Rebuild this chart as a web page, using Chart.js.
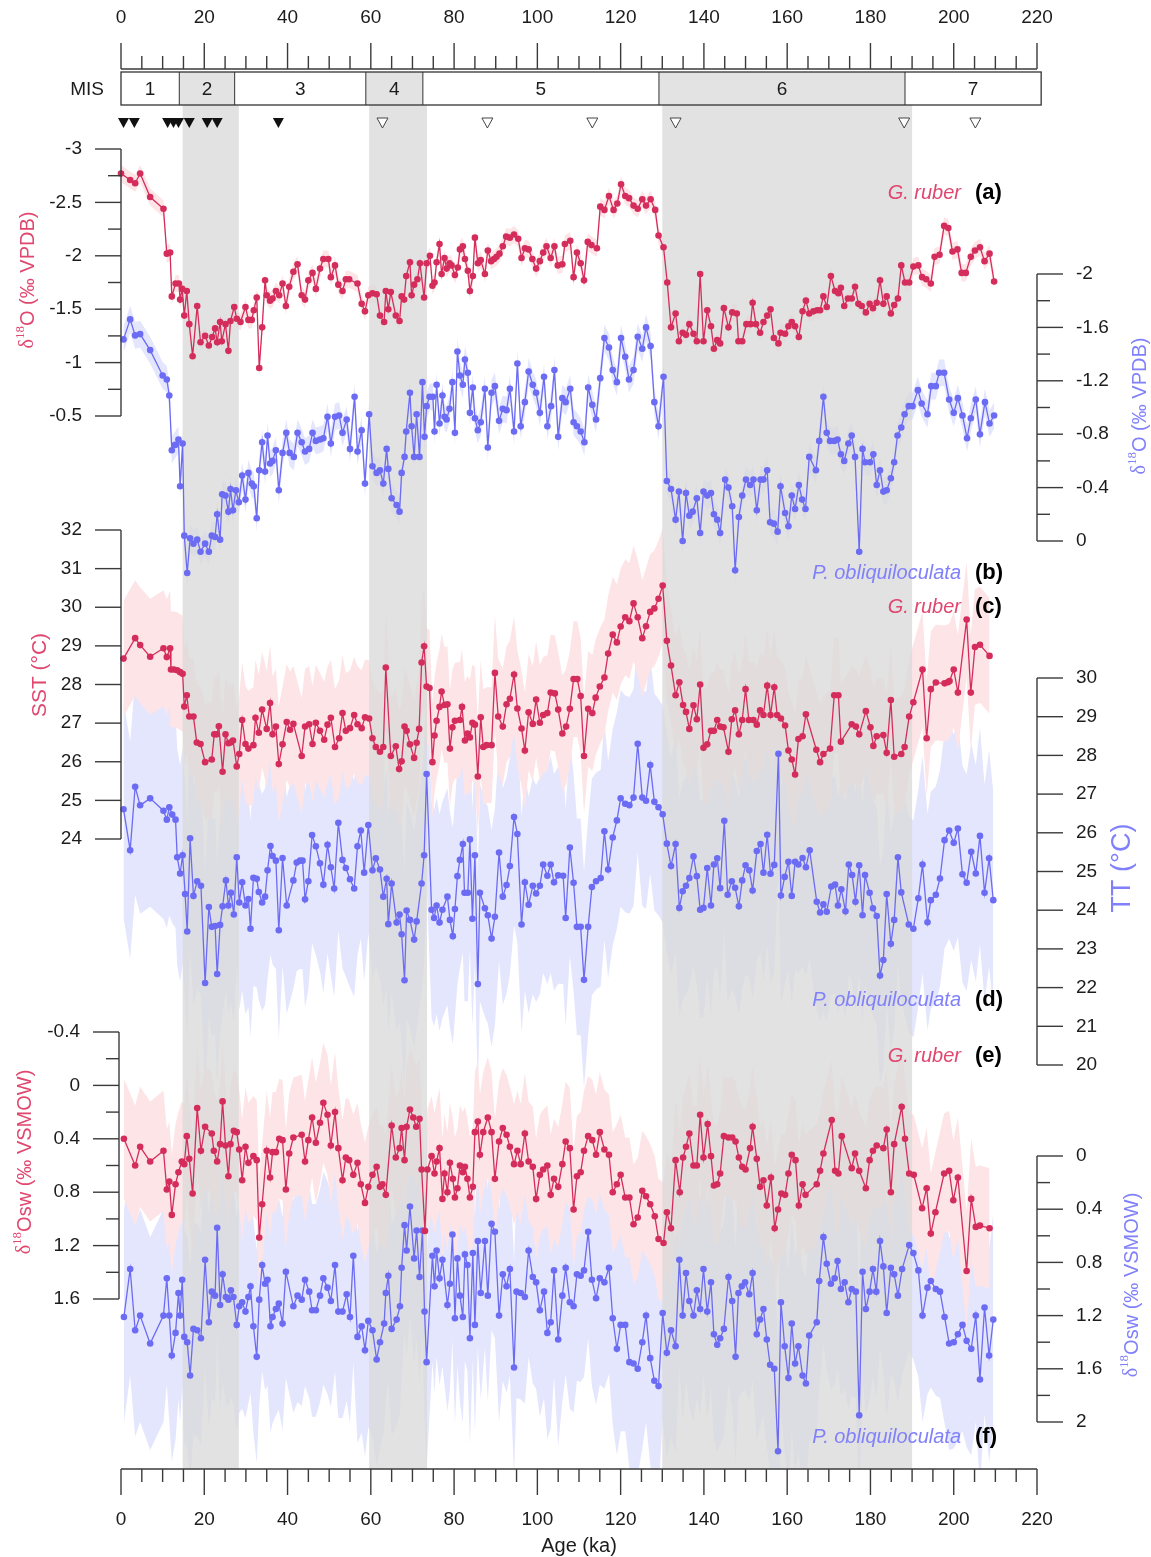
<!DOCTYPE html>
<html>
<head>
<meta charset="utf-8">
<title>Foraminifera records</title>
<script src="https://cdn.jsdelivr.net/npm/chart.js@4.4.1/dist/chart.umd.min.js"></script>
<style>
  html, body { margin: 0; padding: 0; background: #fff; }
  #wrap { width: 1151px; height: 1557px; }
</style>
</head>
<body>
<div id="wrap"><canvas id="chart" width="1151" height="1557"></canvas></div>
<script>
// ---- data (age in ka, value) ----
const ageTicks = [0, 20, 40, 60, 80, 100, 120, 140, 160, 180, 200, 220];
const misStages = ['1', '2', '3', '4', '5', '6', '7'];
const misBounds = [0, 14, 27.3, 58.8, 72.5, 129.2, 188.3, 221];
const glacialBands = [[14.8, 28.3], [59.6, 73.5], [130, 190]];
const datedFilled = [0.6, 3.2, 11.2, 12.6, 13.8, 16.4, 20.7, 23.1, 37.8];
const datedOpen = [62.8, 88, 113.2, 133.2, 188.1, 205.2];

const ticksA = [-3, -2.5, -2, -1.5, -1, -0.5];
const ticksB = [-2, -1.6, -1.2, -0.8, -0.4, 0];
const ticksC = [32, 31, 30, 29, 28, 27, 26, 25, 24];
const ticksD = [30, 29, 28, 27, 26, 25, 24, 23, 22, 21, 20];
const ticksE = [-0.4, 0, 0.4, 0.8, 1.2, 1.6];
const ticksF = [0, 0.4, 0.8, 1.2, 1.6, 2];

// half-width of the shaded uncertainty envelopes
const sigmaA = 0.08, sigmaB = 0.1, sigmaC = 1.5, sigmaD = 2.8, sigmaE = 0.45, sigmaF = 0.8;

// (a) G. ruber d18O
const ruberD18O = [[0,-2.77],[2.2,-2.71],[3.4,-2.68],[4.6,-2.77],[7,-2.55],[10.2,-2.44],[11,-2.02],[11.8,-2.03],[12.2,-1.62],[13.1,-1.74],[13.9,-1.74],[14.2,-1.59],[14.7,-1.69],[15.2,-1.44],[15.8,-1.67],[16.4,-1.36],[17.2,-1.06],[18.3,-1.53],[19.1,-1.19],[20.2,-1.25],[21.1,-1.16],[21.9,-1.24],[22.6,-1.32],[23.1,-1.19],[23.8,-1.38],[24.2,-1.2],[25.1,-1.36],[25.8,-1.11],[26.3,-1.39],[27.2,-1.52],[27.8,-1.41],[28.7,-1.38],[29.9,-1.52],[30.6,-1.4],[31.4,-1.4],[31.9,-1.49],[32.6,-1.61],[33.2,-0.95],[33.9,-1.33],[34.6,-1.77],[35,-1.63],[35.8,-1.58],[36.4,-1.6],[37.2,-1.67],[38,-1.63],[38.8,-1.74],[39.6,-1.53],[40.4,-1.71],[41.4,-1.85],[42.4,-1.92],[43.4,-1.63],[44.2,-1.59],[45,-1.77],[46,-1.84],[46.8,-1.69],[47.8,-1.88],[48.6,-1.97],[49.8,-1.97],[50.4,-1.8],[51.4,-1.91],[52.2,-1.73],[53.2,-1.67],[54,-1.78],[54.8,-1.78],[56.8,-1.74],[57.8,-1.55],[58.6,-1.48],[59.4,-1.63],[60.4,-1.65],[61.4,-1.64],[62.2,-1.44],[63.2,-1.38],[63.6,-1.67],[64.2,-1.5],[64.8,-1.66],[66,-1.44],[66.9,-1.39],[67.4,-1.62],[68,-1.59],[68.5,-1.81],
  [69.4,-1.94],[69.8,-1.63],[70.4,-1.73],[71.2,-1.78],[71.8,-1.93],[72.8,-1.61],[73.4,-1.93],[74.2,-2.0],[74.8,-1.72],[75.3,-1.75],[75.8,-1.94],[76.5,-2.11],[77,-1.83],[77.7,-1.98],[78.2,-1.88],[78.9,-1.93],[79.4,-1.91],[80.2,-1.82],[80.9,-1.89],[81.4,-2.06],[82.1,-2.09],[82.6,-1.97],[83.3,-1.86],[83.8,-1.67],[84.5,-1.81],[85,-2.17],[85.7,-1.93],[86.4,-1.96],[87.4,-1.83],[88.1,-2.05],[88.9,-1.95],[89.6,-1.97],[90.2,-1.99],[90.9,-2.02],[91.7,-2.09],[92.5,-2.18],[93.4,-2.17],[94.4,-2.2],[95.4,-2.16],[96.2,-1.98],[97,-2.07],[97.9,-2.06],[98.8,-1.97],[99.7,-1.88],[100.6,-1.95],[101.4,-2.03],[102.2,-2.09],[103.2,-1.98],[104.1,-2.09],[104.9,-1.91],[106,-1.92],[106.6,-2.11],[107.9,-2.14],[108.7,-1.8],[109.5,-2.03],[110.4,-1.93],[111.2,-1.77],[112.1,-2.13],[113,-2.1],[114.3,-2.07],[115.1,-2.46],[116.1,-2.43],[117.2,-2.56],[118.3,-2.43],[119.2,-2.49],[120.1,-2.67],[121.1,-2.56],[122,-2.54],[123.1,-2.47],[124.1,-2.44],[125.2,-2.53],[126.1,-2.47],[127.2,-2.53],[128.3,-2.43],[129.1,-2.19],[130.3,-2.08],[131.2,-1.75],[132.1,-1.33],[133.2,-1.46],[134,-1.2],[134.9,-1.28],[135.7,-1.26],[136.5,-1.36],[137.5,-1.27],[138.3,-1.2],[139.1,-1.83],[139.9,-1.2],[140.8,-1.49],[141.7,-1.34],[142.4,-1.13],[143.2,-1.21],
  [143.9,-1.18],[144.8,-1.51],[145.9,-1.33],[146.8,-1.47],[147.9,-1.46],[148.3,-1.2],[149.2,-1.2],[150.2,-1.36],[151.2,-1.36],[151.7,-1.56],[152.5,-1.36],[153.5,-1.28],[154.3,-1.38],[155.2,-1.44],[156,-1.5],[156.8,-1.23],[157.9,-1.18],[158.4,-1.28],[159.5,-1.27],[160.3,-1.34],[161.1,-1.38],[161.9,-1.34],[162.8,-1.24],[163.7,-1.48],[164.5,-1.58],[165.3,-1.46],[166.3,-1.48],[167.2,-1.49],[167.9,-1.49],[168.7,-1.62],[169.5,-1.52],[170.5,-1.81],[171.5,-1.67],[172.3,-1.65],[172.9,-1.7],[173.7,-1.53],[174.6,-1.6],[175.5,-1.6],[176.3,-1.71],[177.1,-1.55],[177.9,-1.53],[178.9,-1.47],[179.8,-1.55],[180.6,-1.51],[181.5,-1.56],[182.3,-1.77],[183.1,-1.55],[183.9,-1.62],[184.9,-1.46],[185.7,-1.54],[186.6,-1.6],[187.4,-1.91],[188.3,-1.75],[189.3,-1.75],[190.3,-1.9],[191.5,-1.91],[192.4,-1.8],[193.4,-1.78],[194.5,-1.74],[195.4,-1.99],[196.6,-2.01],[197.7,-2.28],[198.7,-2.26],[199.7,-2.04],[200.9,-2.06],[201.9,-1.84],[202.9,-1.84],[204.1,-1.99],[205.1,-2.05],[206.3,-2.08],[207.4,-1.95],[208.6,-2.02],[209.7,-1.76]];

// (b) P. obliquiloculata d18O
const obliqD18O = [[0.6,-1.51],[2.2,-1.66],[3.4,-1.54],[4.6,-1.55],[7,-1.43],[10,-1.24],[11,-1.21],[11.6,-1.09],[12.2,-0.68],[13,-0.72],[13.8,-0.76],[14.2,-0.41],[14.8,-0.73],[15.2,-0.04],[15.9,0.24],[16.6,-0.02],[17.4,0.02],[18.3,-0.01],[19.1,0.08],[20.2,0.02],[21.1,0.08],[21.8,-0.04],[22.6,-0.03],[23.1,-0.2],[23.8,-0.01],[24.3,-0.35],[25.1,-0.34],[25.8,-0.22],[26.3,-0.39],[26.9,-0.23],[27.6,-0.38],[28.3,-0.29],[29.1,-0.49],[29.9,-0.31],[30.6,-0.51],[31.4,-0.43],[31.9,-0.41],[32.6,-0.17],[33.2,-0.53],[33.9,-0.74],[34.6,-0.52],[35.2,-0.79],[35.8,-0.58],[36.4,-0.6],[37.2,-0.68],[37.9,-0.38],[38.8,-0.66],[39.7,-0.81],[40.5,-0.66],[41.5,-0.63],[42.4,-0.81],[43.4,-0.74],[44.2,-0.67],[45.2,-0.69],[46,-0.81],[46.8,-0.75],[47.8,-0.76],[48.6,-0.77],[49.6,-0.93],[50.4,-0.73],[51.4,-0.93],[52.4,-0.94],[53.2,-0.81],[54.2,-0.91],[55,-0.69],[56.1,-1.08],[56.8,-0.67],[57.8,-0.83],[58.6,-0.43],[59.6,-0.95],[60.4,-0.56],[61.4,-0.51],[62.2,-0.53],[63,-0.43],[63.8,-0.69],[64.2,-0.54],[65,-0.32],[66.2,-0.27],[66.9,-0.22],[67.4,-0.51],[68.1,-0.63],[68.5,-0.82],
  [69.4,-1.11],[69.8,-0.86],[70.4,-0.63],[71,-0.95],[71.7,-0.63],[72.4,-1.19],[72.9,-0.78],[73.4,-1.01],[74.1,-1.08],[74.9,-1.08],[75.3,-0.82],[75.8,-1.17],[76.5,-0.88],[77.2,-1.09],[77.7,-0.93],[78.2,-0.91],[78.9,-0.99],[79.6,-1.19],[80.2,-0.81],[80.8,-1.42],[81.4,-1.24],[82.1,-1.17],[82.6,-1.36],[83.3,-1.26],[83.8,-0.96],[84.5,-1.15],[85,-0.92],[85.7,-0.83],[86.4,-0.89],[87.4,-1.14],[88.1,-0.7],[89,-1.11],[89.8,-1.16],[90.8,-0.9],[91.7,-0.99],[92.6,-0.98],[93.4,-1.14],[94.4,-0.82],[95.2,-1.33],[96,-0.86],[97,-1.04],[97.9,-1.27],[98.9,-1.17],[99.7,-1.11],[100.6,-0.96],[101.6,-1.23],[102.4,-0.86],[103.3,-1.01],[104.1,-1.28],[105,-0.78],[106,-1.07],[106.8,-1.04],[107.9,-1.14],[108.7,-0.89],[109.5,-0.86],[110.4,-0.82],[111.3,-0.74],[112.2,-1.15],[113.2,-1.02],[114.1,-0.91],[115.1,-1.22],[116.1,-1.52],[117.2,-1.45],[118.1,-1.28],[119.1,-1.19],[120.1,-1.52],[121.1,-1.38],[122,-1.21],[123.1,-1.28],[124.1,-1.53],[125.2,-1.44],[126.1,-1.6],[127.2,-1.46],[128.1,-1.04],[129.1,-0.86],[130.3,-1.23],[131.1,-0.45],[132.1,-0.39],[133.2,-0.16],[134,-0.37],[134.9,0],[135.7,-0.36],[136.5,-0.19],[137.3,-0.22],[138.3,-0.32],[139.1,-0.06],[139.9,-0.37],[140.8,-0.34],[141.7,-0.36],[142.4,-0.2],[143.2,-0.16],
  [143.9,-0.06],[145.1,-0.46],[145.9,-0.4],[146.8,-0.26],[147.5,0.22],[148.4,-0.18],[149.2,-0.34],[150.1,-0.46],[151.1,-0.42],[151.9,-0.46],[152.7,-0.23],[153.6,-0.46],[154.3,-0.46],[155.2,-0.53],[155.9,-0.14],[156.8,-0.13],[157.7,-0.07],[158.4,-0.41],[159.5,-0.21],[160.3,-0.11],[161.1,-0.34],[161.9,-0.24],[162.8,-0.42],[163.6,-0.31],[164.4,-0.24],[165.3,-0.63],[166.9,-0.53],[167.7,-0.75],[168.7,-1.08],[169.5,-0.81],[170.3,-0.75],[171.3,-0.75],[172.1,-0.76],[172.9,-0.65],[173.7,-0.6],[174.7,-0.73],[175.5,-0.79],[176.3,-0.63],[177.3,0.08],[178.1,-0.69],[178.7,-0.59],[179.9,-0.59],[180.7,-0.65],[181.5,-0.42],[182.3,-0.53],[183.1,-0.37],[183.9,-0.38],[184.9,-0.47],[185.7,-0.59],[186.5,-0.79],[187.4,-0.85],[188.2,-0.95],[189.2,-1.01],[190.1,-1.01],[191.4,-1.13],[192.3,-1.03],[193.7,-0.95],[194.6,-1.16],[195.7,-1.16],[196.5,-1.26],[197.7,-1.26],[198.9,-1.06],[200,-0.96],[201,-1.07],[202.1,-0.94],[203.2,-0.77],[204.1,-0.92],[205.3,-1.06],[206.3,-0.8],[207.5,-1.04],[208.6,-0.88],[209.7,-0.94]];

// (c) G. ruber SST
const ruberSST = [[0.6,28.67],[3.4,29.2],[4.6,29.02],[7,28.72],[10.2,28.94],[11,28.71],[11.8,28.94],[12,28.39],[12.7,28.39],[13.5,28.37],[14.2,28.32],[14.8,28.28],[15.2,27.43],[15.8,27.72],[16.4,27.17],[17.4,27.17],[18.2,26.5],[19.1,26.46],[20.2,25.99],[21.8,26.06],[22.4,26.71],[23,26.71],[23.5,26.92],[24.4,25.74],[25.1,26.71],[25.8,26.48],[26.3,26.5],[26.9,26.55],[27.8,25.88],[28.4,26.2],[29.1,27.08],[29.9,26.46],[30.6,26.34],[31.8,26.43],[32.3,27.14],[33.1,26.75],[33.9,27.35],[35,26.85],[35.8,27.52],[36.4,26.71],[37.2,26.91],[37.9,25.94],[38.8,26.45],[39.8,27.03],[40.6,26.83],[41.4,26.98],[43.4,26.15],[44.2,26.91],[45.2,26.97],[46,26.46],[46.8,27.01],[47.8,26.8],[48.8,26.57],[49.6,26.96],[50.4,27.14],[51.4,26.38],[52.4,26.61],[53.2,27.26],[54,26.8],[55,26.87],[56,27.21],[56.8,26.97],[57.8,26.87],[58.6,27.15],[59.6,27.12],[60.4,26.61],[61.2,26.38],[62.2,26.26],[63,26.38],[63.6,28.44],[64.8,26.15],[66,26.4],[66.8,25.81],[67.4,26.01],[68.1,26.91],[68.6,26.8],
  [69.4,26.45],[70.4,26.1],[71,26.49],[71.6,26.85],[72.2,28.57],[72.8,28.99],[73.4,27.95],[74.1,27.91],[74.8,25.99],[75.3,26.68],[75.8,27.06],[76.5,27.42],[77,27.82],[77.7,27.47],[78.4,27.49],[79,26.34],[79.6,26.89],[80.2,27.06],[81.4,27.08],[81.9,27.42],[82.6,26.55],[83.2,26.73],[83.8,26.63],[84.4,27.01],[85,26.96],[85.7,25.62],[86.4,27.15],[87,26.38],[87.8,26.43],[89,26.43],[89.8,28.3],[90.6,27.17],[91.7,26.91],[92.6,27.49],[93.4,27.63],[94.4,28.26],[95.2,27.38],[96.2,26.86],[97,26.29],[97.9,27.28],[98.9,26.98],[99.7,27.61],[100.6,27.01],[101.4,27.21],[102.4,27.26],[103.2,27.79],[104.2,27.77],[105,27.35],[106,26.73],[106.9,26.91],[107.8,27.37],[108.7,28.14],[109.6,28.14],[110.4,27.7],[111.2,26.15],[112.2,27.37],[113.2,27.26],[114,27.66],[115,27.95],[116.1,28.18],[117,28.8],[118.1,29.29],[119.1,29.09],[120,29.5],[121.1,29.74],[122.1,29.64],[123.1,30.1],[124.1,29.74],[125.2,29.2],[126.1,29.51],[127.1,29.88],[128.1,29.97],[129.1,30.22],[130.1,30.56],[131.1,29.13],[132.1,28.49],[133.2,27.72],[134.1,28.06],[135,27.47],[135.7,27.29],[136.5,26.85],[137.5,27.46],[138.3,27.1],[139.1,28],[139.9,26.36],[140.8,26.45],[141.7,26.8],[142.4,26.8],[143.2,27.08],
  [143.9,26.91],[144.7,26.89],[145.9,26.26],[146.7,27.1],[147.5,27.33],[148.4,26.71],[149.2,27.08],[150,27.88],[150.8,27.08],[151.9,27.08],[152.7,26.96],[153.5,27.33],[154.3,27.21],[155.2,27.97],[156,27.21],[156.9,27.93],[157.6,27.21],[158.5,27.12],[159.5,26.94],[160.3,26.29],[161.1,26.06],[161.9,25.67],[162.7,26.59],[163.7,26.66],[164.5,27.23],[167,26.31],[167.9,25.99],[168.7,26.2],[170.3,26.34],[171.3,27.72],[172.3,27.72],[172.9,26.52],[175.5,26.97],[176.5,26.91],[177.3,26.71],[178.9,27.31],[180,26.89],[180.7,26.41],[181.5,26.66],[183.1,26.69],[183.9,26.23],[184.9,27.6],[185.7,26.13],[187.4,26.2],[188.2,26.38],[189.3,27.17],[190.3,27.54],[192.5,28.39],[193.5,26.61],[194.5,27.88],[195.7,28.05],[197.8,28.03],[198.6,28.06],[199,28.09],[200,28.39],[201,27.79],[203.1,29.68],[204.1,27.79],[205.1,28.97],[206.3,29.03],[208.6,28.74]];

// (d) P. obliquiloculata thermocline temperature
const obliqTT = [[0.6,26.61],[2.2,25.55],[3.4,27.19],[4.6,26.71],[7,26.89],[10.2,26.57],[11,26.34],[11.6,26.66],[12.3,26.47],[13.1,26.34],[13.5,25.37],[14.2,24.95],[14.8,25.42],[15.4,24.42],[15.9,23.45],[16.6,25.86],[17.4,24.37],[18.3,24.75],[19.2,24.63],[20.2,22.12],[21.1,24.08],[21.8,23.57],[22.6,23.59],[23.1,22.35],[23.8,23.62],[24.4,24.1],[25.2,24.77],[25.8,24.12],[26.4,24.45],[27.1,23.89],[27.8,25.37],[28.4,24.2],[29.1,24.72],[29.9,24.12],[30.6,24.29],[31.1,23.52],[31.8,24.84],[32.6,24.81],[33.1,24.47],[33.9,24.2],[34.6,24.35],[35.2,25.03],[35.9,25.66],[36.4,25.4],[37.2,25.28],[37.9,23.48],[38.8,25.35],[39.8,24.12],[41.4,24.77],[42.2,25.23],[43,25.28],[43.6,25.28],[44.2,24.28],[45,24.75],[45.9,25.94],[46.8,25.65],[47.8,25.21],[48.6,24.66],[49.6,25.69],[50.4,25.11],[51.2,24.56],[52.2,26.26],[53.2,25.3],[54,25.09],[55,24.8],[56,24.56],[56.8,25.65],[57.6,26.06],[58.4,24.97],[59.4,26.2],[60.4,25.03],[61.2,25.34],[62.2,25.05],[63,24.35],[63.8,24.81],[64.2,23.64],[65,24.69],[66.2,23.68],[66.9,23.89],[67.4,23.38],[68.1,22.19],[68.6,23.99],
  [69.4,23.75],[70.4,23.24],[71,23.71],[72.2,24.69],[72.8,25.42],[73.4,27.52],[74.6,24.01],[75.2,23.8],[75.8,24.12],[76.5,23.68],[77.2,24.01],[78.4,24.35],[79,23.75],[79.7,23.33],[80.2,24.03],[80.8,24.88],[81.4,25.3],[82.1,25.71],[82.5,24.45],[83.3,24.45],[83.8,25.83],[84.4,23.78],[85,25.42],[85.7,22.09],[86.2,24.45],[87.4,24.05],[88.1,23.87],[89,23.27],[89.8,23.83],[90.8,25.49],[91.7,24.35],[92.6,24.65],[93.4,25.14],[94.4,26.41],[95.2,25.97],[96.2,23.63],[97,24.72],[97.9,24.14],[98.9,24.63],[99.7,24.43],[100.6,24.63],[101.4,25.18],[102.4,24.89],[103.2,25.18],[104,24.72],[105,24.9],[106.2,24.89],[106.8,23.8],[107.8,25.62],[108.7,24.71],[109.5,23.57],[110.4,23.57],[111.2,22.2],[112.2,23.57],[113.1,24.6],[114.1,24.75],[115.2,24.83],[116.1,26.04],[117,25.05],[118.1,25.88],[119.1,26.32],[120,26.89],[121.1,26.75],[122.1,26.71],[123.1,26.91],[124.1,28.3],[125.2,26.91],[126.1,26.83],[127.1,27.75],[128.1,26.8],[129.1,26.66],[130.1,26.48],[131.1,25.72],[132.1,25.14],[133.2,25.71],[134.1,24.06],[134.9,24.49],[135.7,24.63],[136.5,24.83],[137.5,25.39],[138.3,24.88],[139.1,24.01],[139.9,24.06],[140.8,25.09],[141.7,24.12],[142.4,25.18],[143.2,25.34],
  [143.9,24.57],[144.9,26.31],[145.7,24.4],[146.7,24.75],[147.5,24.58],[148.4,24.1],[149.2,24.77],[150,25.16],[150.9,25.03],[151.7,24.51],[152.7,25.53],[153.6,25.71],[154.3,24.97],[155.2,25.95],[156,24.94],[156.9,25.17],[157.9,28.04],[158.5,24.38],[159.4,24.86],[160.3,25.25],[161.1,24.37],[161.9,25.25],[162.7,25.18],[163.7,25.35],[164.5,25.11],[165.4,25.55],[167.1,24.22],[167.9,23.94],[168.7,24.15],[169.5,23.96],[170.6,24.61],[171.5,24.66],[172.2,24.12],[173,24.54],[174,23.97],[174.8,25.18],[175.6,24.91],[176.4,24.22],[177.3,25.16],[178.1,23.87],[178.7,24.91],[179.8,24.45],[180.6,24.05],[181.5,23.85],[182.3,22.31],[183.1,22.71],[183.9,24.42],[184.9,23.13],[185.7,23.75],[186.6,25.37],[187.4,24.46],[189.2,23.63],[190.3,23.52],[191.5,24.31],[192.5,25.18],[193.7,23.69],[194.5,24.26],[195.7,24.4],[196.7,24.82],[197.8,25.81],[198.9,26.06],[200,25.74],[201,26.11],[202.1,24.93],[203.1,24.71],[204.2,25.51],[205.3,24.95],[206.3,25.92],[207.4,24.45],[208.5,25.34],[209.5,24.26]];

// (e) G. ruber d18Osw
const ruberD18Osw = [[0.7,0.4],[3.4,0.6],[4.6,0.46],[7,0.57],[10.2,0.49],[11,0.78],[11.6,0.72],[12.2,0.97],[13.1,0.74],[13.8,0.65],[14.6,0.57],[15.2,0.59],[15.8,0.38],[16.4,0.55],[17.2,0.81],[18.3,0.17],[19.2,0.49],[20.2,0.31],[21.8,0.36],[22.3,0.49],[23.1,0.57],[23.8,0.44],[24.4,0.12],[25.1,0.45],[25.8,0.68],[26.3,0.44],[27.1,0.34],[27.8,0.35],[28.4,0.48],[29.1,0.71],[29.9,0.46],[30.6,0.58],[31.8,0.53],[32.6,0.56],[33.2,1.14],[33.9,0.89],[35,0.49],[35.8,0.69],[36.4,0.5],[37.2,0.5],[38,0.4],[38.8,0.41],[39.6,0.78],[40.4,0.51],[41.4,0.39],[43.4,0.37],[44.2,0.57],[45,0.41],[45.9,0.24],[46.8,0.43],[47.8,0.28],[48.6,0.13],[49.6,0.22],[50.4,0.45],[51.4,0.2],[52.2,0.47],[53.2,0.71],[54,0.54],[54.8,0.56],[55.8,0.67],[56.8,0.58],[57.6,0.74],[58.6,0.88],[59.4,0.76],[60.4,0.67],[61.4,0.61],[62.2,0.76],[62.8,0.74],[63.6,0.82],[65,0.3],[66,0.54],[66.9,0.47],[67.4,0.32],[68.1,0.56],[68.6,0.31],
  [69.4,0.18],[70.2,0.24],[70.9,0.31],[71.7,0.25],[72.2,0.63],[73,1.09],[73.6,0.63],[74.6,0.53],[75.3,0.66],[75.8,0.57],[76.5,0.47],[77.2,0.85],[77.7,0.66],[78.4,0.8],[79,0.58],[79.7,0.7],[80.2,0.84],[80.8,0.77],[81.4,0.6],[82.1,0.65],[82.6,0.61],[83.2,0.7],[83.8,0.84],[84.5,0.76],[85,0.35],[85.7,0.27],[86.2,0.52],[87,0.35],[88.1,0.24],[89,0.35],[89.8,0.7],[90.8,0.42],[91.7,0.32],[92.6,0.37],[93.4,0.46],[94.4,0.59],[95.2,0.49],[96,0.59],[97,0.36],[97.9,0.57],[98.9,0.61],[99.7,0.85],[100.6,0.67],[101.4,0.63],[102.4,0.6],[103.2,0.82],[104,0.7],[105,0.76],[106,0.59],[106.8,0.42],[107.8,0.47],[108.7,0.93],[109.5,0.68],[110.4,0.65],[111.2,0.49],[112.2,0.38],[113.2,0.41],[114.1,0.52],[115,0.35],[116.1,0.48],[117.2,0.52],[118.1,0.8],[119.1,0.74],[120,0.67],[121.1,0.84],[122.1,0.84],[123.1,1.04],[124.1,0.99],[125.2,0.79],[126.1,0.83],[127.1,0.89],[128.2,0.98],[129.1,1.15],[130.3,1.18],[131.1,0.95],[132.1,1.07],[133.2,0.56],[134.2,0.8],[135,0.54],[135.7,0.46],[136.5,0.36],[137.5,0.6],[138.3,0.6],[139.1,0.22],[139.9,0.54],[140.9,0.29],[141.7,0.53],[142.4,0.75],[143.2,0.74],
  [143.9,0.66],[144.8,0.38],[145.9,0.39],[146.8,0.39],[147.6,0.42],[148.4,0.54],[149.2,0.61],[150,0.63],[151.1,0.47],[151.7,0.31],[152.7,0.55],[153.5,0.76],[154.3,0.71],[155.1,0.9],[156.1,0.69],[157,1.07],[157.8,0.93],[158.6,0.81],[159.5,0.82],[160.3,0.66],[161.1,0.52],[162,0.56],[162.8,0.9],[163.7,0.74],[164.4,0.82],[167.1,0.74],[167.9,0.64],[168.7,0.51],[170.7,0.26],[171.5,0.64],[172.3,0.66],[173.1,0.38],[175.5,0.62],[176.3,0.51],[177.3,0.64],[178.9,0.77],[179.8,0.56],[180.6,0.49],[181.5,0.45],[183.1,0.47],[183.9,0.33],[184.9,0.8],[185.7,0.44],[187.5,0.16],[188.3,0.4],[189.3,0.66],[190.4,0.67],[192.4,0.92],[193.5,0.77],[194.5,1.11],[195.6,0.95],[197.7,0.66],[198.9,0.64],[199.9,0.86],[201,0.69],[203.1,1.39],[204.2,0.85],[205.3,1.06],[206.3,1.05],[208.6,1.07]];

// (f) P. obliquiloculata d18Osw
const obliqD18Osw = [[0.7,1.21],[2.2,0.85],[3.4,1.31],[4.6,1.2],[7,1.41],[10.2,1.2],[11,0.92],[11.6,1.2],[12.2,1.5],[13.1,1.33],[13.8,1.03],[14.2,1.2],[14.7,0.93],[15.2,1.36],[15.9,1.4],[16.6,1.65],[17.4,1.3],[18.3,1.31],[19.2,1.37],[20.2,0.78],[21.1,1.25],[21.8,1.02],[22.6,1.05],[23.1,0.54],[23.8,1.12],[24.4,0.89],[25.2,1.06],[25.8,1.08],[26.4,1.01],[27,1.06],[27.8,1.27],[28.4,1.13],[29.1,1.1],[29.9,1.17],[30.6,1.06],[31.1,0.98],[31.8,1.28],[32.6,1.51],[33.2,1.08],[33.9,0.82],[34.6,0.96],[35.2,0.93],[35.9,1.28],[36.4,1.21],[37.2,1.15],[37.9,1.11],[38.8,1.26],[39.6,0.87],[41.4,1.13],[42.4,1.05],[43.4,1.08],[44.2,0.93],[45.2,1.02],[45.9,1.16],[46.8,1.16],[47.8,1.05],[48.6,0.92],[49.6,0.99],[50.4,1.09],[51.4,0.82],[52.2,1.17],[53.2,1.17],[54.2,1.04],[55,1.21],[55.8,0.75],[56.8,1.36],[57.8,1.28],[58.6,1.46],[59.4,1.24],[60.4,1.31],[61.4,1.53],[62.2,1.4],[63.2,1.26],[63.6,1.03],[64.2,0.9],[65,1.3],[66.2,1.23],[67,1.13],[67.4,0.84],[68.1,0.52],[68.6,0.71],
  [69.4,0.38],[70.4,0.77],[71,0.56],[71.7,0.91],[72.4,0.56],[72.9,1.17],[73.4,1.55],[74.8,0.75],[75.3,0.98],[75.8,0.71],[76.5,0.92],[77.2,0.78],[78.4,1.12],[79,0.96],[79.6,0.59],[80.2,1.22],[80.8,0.77],[81.4,1.05],[82.1,1.21],[82.6,0.74],[83.2,0.82],[83.8,1.37],[84.5,0.73],[85,1.27],[85.7,0.64],[86.4,1.03],[87.4,0.64],[88.1,1.05],[89,0.51],[89.8,0.57],[90.8,1.2],[91.7,0.89],[92.6,0.98],[93.4,0.85],[94.4,1.59],[95,1.02],[96,1.03],[97,1.06],[97.9,0.71],[98.9,0.91],[99.7,0.95],[100.6,1.16],[101.6,1.02],[102.4,1.33],[103.2,1.25],[104,0.86],[105,1.38],[106,1.05],[106.8,0.84],[107.8,1.1],[108.7,1.13],[109.5,0.89],[110.4,0.9],[111.2,0.86],[112.2,0.57],[113.1,0.93],[114.1,1.07],[115,0.92],[116.1,0.95],[117.2,0.84],[118.1,1.22],[119.1,1.45],[120,1.27],[121.1,1.27],[122.1,1.55],[123.1,1.56],[124.1,1.6],[125.2,1.4],[126.1,1.2],[127.1,1.52],[128.1,1.69],[129.1,1.73],[130.1,1.18],[131.1,1.48],[132.1,1.31],[133.2,1.43],[134.1,0.78],[134.9,1.2],[135.7,0.88],[136.5,1.09],[137.5,1.2],[138.3,1.01],[139.1,1.15],[139.9,0.85],[140.8,1.17],[141.7,0.95],[142.4,1.34],[143.2,1.42],
  [143.9,1.37],[144.8,1.3],[145.9,0.91],[146.8,1.09],[147.6,1.51],[148.3,1.03],[149.1,0.98],[149.9,0.95],[150.9,1.04],[151.7,0.88],[152.7,1.34],[153.5,1.23],[154.3,1.15],[155.1,1.38],[155.9,1.57],[156.9,1.6],[157.8,2.22],[158.5,1.1],[159.4,1.43],[160.3,1.67],[161.1,1.26],[161.9,1.56],[162.7,1.43],[163.7,1.65],[164.5,1.71],[165.3,1.35],[167.1,1.25],[167.7,0.94],[168.7,0.61],[169.5,0.81],[170.5,0.96],[171.4,0.92],[172.1,0.79],[172.9,1.0],[173.8,0.95],[174.7,1.1],[175.5,1.0],[176.5,1.02],[177.3,1.95],[178.1,0.87],[178.9,1.15],[179.8,1.02],[180.6,0.85],[181.4,1.02],[182.3,0.64],[183.1,0.83],[183.9,1.18],[184.9,0.84],[185.7,0.89],[186.6,1.05],[187.6,0.85],[189.3,0.67],[190.3,0.73],[191.5,0.86],[192.5,1.2],[193.7,0.99],[194.5,0.94],[195.7,1.0],[196.7,1.02],[197.8,1.21],[198.9,1.41],[200,1.4],[201,1.34],[202.1,1.27],[203.1,1.39],[204.2,1.45],[205.3,1.2],[206.3,1.68],[207.4,1.14],[208.5,1.5],[209.5,1.23]];

// ---- layout ----
const W = 1151, H = 1557;
const CA_LEFT = 121, CA_RIGHT = 1037, CA_TOP = 69, CA_BOTTOM = 1469;
const BAND_TOP = 105;
const RED = '#d42d5b', BLUE = '#6b6bf3';
const RED_TXT = '#e0476f', BLUE_TXT = '#8080fb';
const RED_BAND = '#fde4e7', BLUE_BAND = '#e4e6fd';
const GLACIAL = 'rgba(218, 218, 218, 0.78)';
const AXIS = '#3a3a3a', TEXT = '#1c1c1c';
const SANS = '"Liberation Sans", Arial, sans-serif';
const SERIF = '"Liberation Serif", "DejaVu Serif", serif';

// y range so the first/last tick land on the given pixel rows
const axisRange = (vTop, vBot, pxTop, pxBot) => {
    const k = (pxBot - pxTop) / (vBot - vTop);
    const atTop = vTop + (CA_TOP - pxTop) / k;
    const atBot = vTop + (CA_BOTTOM - pxTop) / k;
    if (atTop < atBot) return { min: atTop, max: atBot, reverse: true };
    return { min: atBot, max: atTop, reverse: false };
};

const d18O = (suffix) => [
    { text: 'δ', font: '20px ' + SERIF },
    { text: '18', font: '13px ' + SERIF, dy: -7 },
    { text: 'O' + suffix, font: '20px ' + SANS }
];

const yAxes = [
    { id: 'yA', side: 'left', x: 121, ticks: ticksA, minor: true, px: [149, 416],
      title: d18O(' (‰ VPDB)'), color: RED_TXT, tx: 28, ty: 280 },
    { id: 'yB', side: 'right', x: 1037, ticks: ticksB, minor: true, px: [274, 541],
      title: d18O(' (‰ VPDB)'), color: BLUE_TXT, tx: 1140, ty: 406 },
    { id: 'yC', side: 'left', x: 121, ticks: ticksC, minor: false, px: [530, 839],
      title: [{ text: 'SST (°C)', font: '21px ' + SANS }], color: RED_TXT, tx: 40, ty: 675 },
    { id: 'yD', side: 'right', x: 1037, ticks: ticksD, minor: false, px: [678, 1065],
      title: [{ text: 'TT (°C)', font: '27px ' + SANS }], color: BLUE_TXT, tx: 1123, ty: 868 },
    { id: 'yE', side: 'left', x: 119, ticks: ticksE, minor: true, px: [1032, 1299],
      title: d18O('sw (‰ VSMOW)'), color: RED_TXT, tx: 25, ty: 1162 },
    { id: 'yF', side: 'right', x: 1037, ticks: ticksF, minor: true, px: [1156, 1422],
      title: d18O('sw (‰ VSMOW)'), color: BLUE_TXT, tx: 1132, ty: 1285 }
];

const panelLabels = [
    { name: 'G. ruber', tag: '(a)', color: RED_TXT, y: 193 },
    { name: 'P. obliquiloculata', tag: '(b)', color: BLUE_TXT, y: 573 },
    { name: 'G. ruber', tag: '(c)', color: RED_TXT, y: 607 },
    { name: 'P. obliquiloculata', tag: '(d)', color: BLUE_TXT, y: 1000 },
    { name: 'G. ruber', tag: '(e)', color: RED_TXT, y: 1056 },
    { name: 'P. obliquiloculata', tag: '(f)', color: BLUE_TXT, y: 1437 }
];

// ---- datasets ----
// band order: blue envelopes first, red envelopes over them, then grey glacials, then the records
const datasets = [];
const addSeries = (pts, sigma, axis, color, band, bandOrder) => {
    datasets.push({
        data: pts.map(p => ({ x: p[0], y: p[1] + sigma })), yAxisID: axis,
        borderColor: 'rgba(0,0,0,0)', borderWidth: 1, pointRadius: 0,
        fill: '+1', backgroundColor: band, order: bandOrder
    });
    datasets.push({
        data: pts.map(p => ({ x: p[0], y: p[1] - sigma })), yAxisID: axis,
        borderColor: 'rgba(0,0,0,0)', borderWidth: 1, pointRadius: 0,
        fill: false, order: bandOrder
    });
    datasets.push({
        data: pts.map(p => ({ x: p[0], y: p[1] })), yAxisID: axis,
        borderColor: color, borderWidth: 1.3, backgroundColor: color,
        pointRadius: 3.3, pointBorderWidth: 0, pointBackgroundColor: color,
        fill: false, order: 1, clip: false
    });
};
addSeries(ruberD18O, sigmaA, 'yA', RED, RED_BAND, 4);
addSeries(obliqD18O, sigmaB, 'yB', BLUE, BLUE_BAND, 6);
addSeries(ruberSST, sigmaC, 'yC', RED, RED_BAND, 4);
addSeries(obliqTT, sigmaD, 'yD', BLUE, BLUE_BAND, 6);
addSeries(ruberD18Osw, sigmaE, 'yE', RED, RED_BAND, 4);
addSeries(obliqD18Osw, sigmaF, 'yF', BLUE, BLUE_BAND, 6);

const scales = { x: { type: 'linear', min: 0, max: 220, display: false } };
yAxes.forEach(a => {
    const t = a.ticks;
    scales[a.id] = Object.assign({ type: 'linear', display: false },
        axisRange(t[0], t[t.length - 1], a.px[0], a.px[1]));
});

// ---- drawing helpers ----
const line = (ctx, x0, y0, x1, y1) => {
    ctx.beginPath(); ctx.moveTo(x0, y0); ctx.lineTo(x1, y1); ctx.stroke();
};

const richText = (ctx, parts, cx, cy, color, rotate) => {
    ctx.save();
    ctx.translate(cx, cy);
    if (rotate) ctx.rotate(-Math.PI / 2);
    let total = 0;
    parts.forEach(p => { ctx.font = p.font; p.w = ctx.measureText(p.text).width; total += p.w; });
    let x = -total / 2;
    ctx.fillStyle = color; ctx.textAlign = 'left'; ctx.textBaseline = 'middle';
    parts.forEach(p => { ctx.font = p.font; ctx.fillText(p.text, x, p.dy || 0); x += p.w; });
    ctx.restore();
};

const drawAgeAxis = (ctx, xs, y, dir, labelY) => {
    ctx.strokeStyle = AXIS; ctx.lineWidth = 1.4;
    line(ctx, xs.getPixelForValue(0), y, xs.getPixelForValue(220), y);
    for (let v = 0; v <= 220; v += 5) {
        const px = xs.getPixelForValue(v);
        line(ctx, px, y, px, y + dir * (ageTicks.includes(v) ? 26 : 13));
    }
    ctx.fillStyle = TEXT; ctx.font = '19px ' + SANS;
    ctx.textAlign = 'center'; ctx.textBaseline = 'middle';
    ageTicks.forEach(v => ctx.fillText(String(v), xs.getPixelForValue(v), labelY));
};

const drawTriangle = (ctx, cx, cy, filled) => {
    ctx.beginPath();
    ctx.moveTo(cx - 5.5, cy - 5); ctx.lineTo(cx + 5.5, cy - 5); ctx.lineTo(cx, cy + 5);
    ctx.closePath();
    if (filled) { ctx.fillStyle = '#111'; ctx.fill(); }
    else { ctx.fillStyle = '#fff'; ctx.fill(); ctx.strokeStyle = '#444'; ctx.lineWidth = 1; ctx.stroke(); }
};

let glacialDrawn = false;
const drawGlacials = (chart) => {
    const { ctx, chartArea, scales: { x } } = chart;
    ctx.save();
    ctx.fillStyle = GLACIAL;
    glacialBands.forEach(([a, b]) => {
        const x0 = x.getPixelForValue(a), x1 = x.getPixelForValue(b);
        ctx.fillRect(x0, BAND_TOP, x1 - x0, chartArea.bottom - BAND_TOP);
    });
    ctx.restore();
};

const frame = {
    id: 'frame',
    beforeDatasetsDraw() { glacialDrawn = false; },
    beforeDatasetDraw(chart, args) {
        if (!glacialDrawn && chart.data.datasets[args.index].order === 1) {
            drawGlacials(chart);
            glacialDrawn = true;
        }
    },
    afterDatasetsDraw(chart) {
        const { ctx, scales } = chart;
        const xs = scales.x;
        if (!glacialDrawn) { drawGlacials(chart); glacialDrawn = true; }
        ctx.save();

        // age axes, top and bottom
        drawAgeAxis(ctx, xs, CA_TOP, -1, 18);
        drawAgeAxis(ctx, xs, CA_BOTTOM, 1, 1520);
        ctx.font = '20px ' + SANS;
        ctx.fillText('Age (ka)', xs.getPixelForValue(110), 1546);

        // MIS strip
        const boxTop = 72, boxBot = 105;
        ctx.fillStyle = '#e3e3e3';
        [1, 3, 5].forEach(i => {
            const x0 = xs.getPixelForValue(misBounds[i]), x1 = xs.getPixelForValue(misBounds[i + 1]);
            ctx.fillRect(x0, boxTop, x1 - x0, boxBot - boxTop);
        });
        ctx.strokeStyle = '#333'; ctx.lineWidth = 1.3;
        const bx0 = xs.getPixelForValue(misBounds[0]), bx1 = xs.getPixelForValue(misBounds[misBounds.length - 1]);
        ctx.strokeRect(bx0, boxTop, bx1 - bx0, boxBot - boxTop);
        ctx.lineWidth = 1;
        for (let i = 1; i < misBounds.length - 1; i++) {
            const px = xs.getPixelForValue(misBounds[i]);
            line(ctx, px, boxTop, px, boxBot);
        }
        ctx.fillStyle = TEXT; ctx.font = '19px ' + SANS;
        ctx.textAlign = 'center'; ctx.textBaseline = 'middle';
        misStages.forEach((s, i) => {
            ctx.fillText(s, xs.getPixelForValue((misBounds[i] + misBounds[i + 1]) / 2), 90);
        });
        ctx.textAlign = 'right';
        ctx.fillText('MIS', 104, 90);

        // dating control points
        datedFilled.forEach(a => drawTriangle(ctx, xs.getPixelForValue(a), 123, true));
        datedOpen.forEach(a => drawTriangle(ctx, xs.getPixelForValue(a), 123, false));

        // y axes
        yAxes.forEach(a => {
            const sc = scales[a.id];
            const t = a.ticks;
            const dir = a.side === 'left' ? -1 : 1;
            ctx.strokeStyle = AXIS; ctx.lineWidth = 1.4;
            line(ctx, a.x, sc.getPixelForValue(t[0]), a.x, sc.getPixelForValue(t[t.length - 1]));
            t.forEach(v => { const py = sc.getPixelForValue(v); line(ctx, a.x, py, a.x + dir * 26, py); });
            if (a.minor) {
                for (let i = 0; i < t.length - 1; i++) {
                    const py = sc.getPixelForValue((t[i] + t[i + 1]) / 2);
                    line(ctx, a.x, py, a.x + dir * 13, py);
                }
            }
            ctx.fillStyle = TEXT; ctx.font = '19px ' + SANS;
            ctx.textAlign = a.side === 'left' ? 'right' : 'left';
            ctx.textBaseline = 'middle';
            t.forEach(v => ctx.fillText(String(v), a.x + dir * 39, sc.getPixelForValue(v)));
            richText(ctx, a.title, a.tx, a.ty, a.color, true);
        });

        // species / panel labels
        panelLabels.forEach(p => {
            ctx.textBaseline = 'middle';
            ctx.textAlign = 'right'; ctx.fillStyle = p.color;
            ctx.font = 'italic 20px ' + SANS;
            ctx.fillText(p.name, 961, p.y);
            ctx.textAlign = 'left'; ctx.fillStyle = '#000';
            ctx.font = 'bold 22px ' + SANS;
            ctx.fillText(p.tag, 975, p.y);
        });
        ctx.restore();
    }
};

new Chart(document.getElementById('chart'), {
    type: 'line',
    data: { datasets },
    options: {
        responsive: false,
        animation: false,
        events: [],
        layout: { padding: { left: CA_LEFT, right: W - CA_RIGHT, top: CA_TOP, bottom: H - CA_BOTTOM } },
        plugins: { legend: { display: false }, tooltip: { enabled: false }, filler: { propagate: false } },
        scales
    },
    plugins: [frame]
});
</script>
</body>
</html>
